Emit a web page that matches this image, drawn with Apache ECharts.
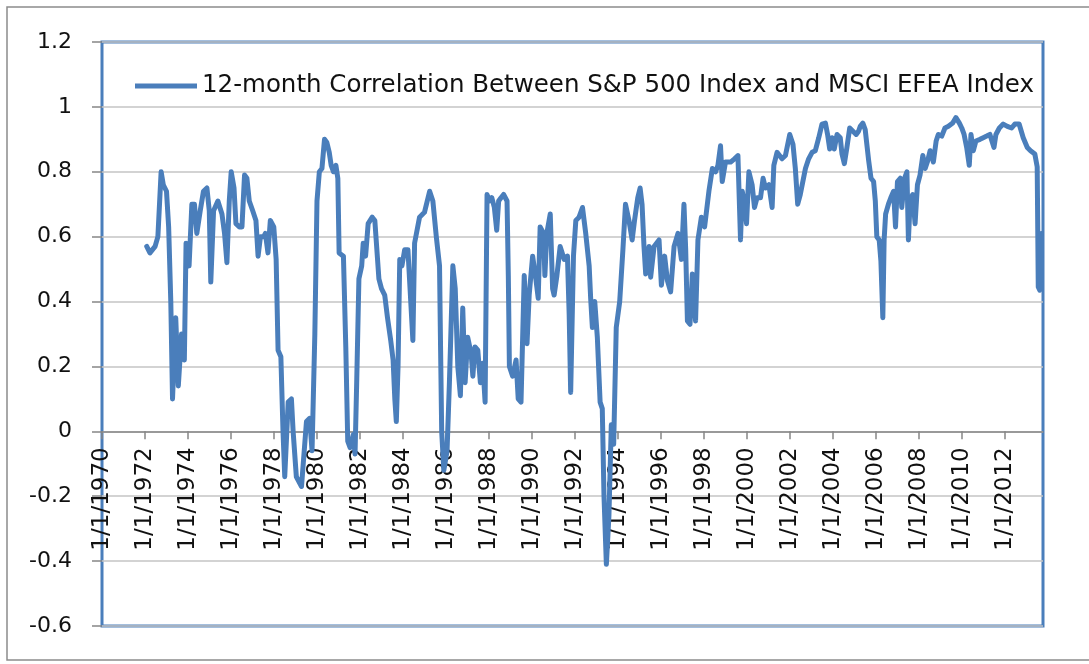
<!DOCTYPE html>
<html>
<head>
<meta charset="utf-8">
<script src="https://cdn.jsdelivr.net/npm/echarts@6/dist/echarts.min.js"></script>
<style>
	html, body { margin: 0; padding: 0; background: #fff; }
	#chart { width: 1089px; height: 664px; }
</style>
</head>
<body>
<div id="chart"></div>
<script>
var seriesName = "12-month Correlation Between S&P 500 Index and MSCI EFEA Index";

var yTicks = [-0.6, -0.4, -0.2, 0, 0.2, 0.4, 0.6, 0.8, 1, 1.2];
var tickYears = [1970, 1972, 1974, 1976, 1978, 1980, 1982, 1984, 1986, 1988, 1990,
	1992, 1994, 1996, 1998, 2000, 2002, 2004, 2006, 2008, 2010, 2012];

var years = [
	1972.08, 1972.23, 1972.47, 1972.6, 1972.75, 1972.85, 1973.0, 1973.1, 1973.2, 1973.28,
	1973.43, 1973.55, 1973.7, 1973.83, 1973.91, 1974.05, 1974.18, 1974.3, 1974.41, 1974.57,
	1974.72, 1974.88, 1974.99, 1975.06, 1975.19, 1975.39, 1975.58, 1975.7, 1975.81, 1975.92,
	1976.01, 1976.14, 1976.23, 1976.39, 1976.51, 1976.63, 1976.74, 1976.85, 1977.01, 1977.16,
	1977.26, 1977.37, 1977.52, 1977.6, 1977.72, 1977.83, 1977.99, 1978.1, 1978.19, 1978.32,
	1978.42, 1978.5, 1978.66, 1978.81, 1978.89, 1979.04, 1979.28, 1979.51, 1979.66, 1979.77,
	1979.9, 1980.0, 1980.11, 1980.23, 1980.35, 1980.46, 1980.57, 1980.66, 1980.77, 1980.88,
	1980.97, 1981.03, 1981.23, 1981.34, 1981.43, 1981.54, 1981.69, 1981.77, 1981.85, 1981.95,
	1982.08, 1982.15, 1982.26, 1982.38, 1982.57, 1982.69, 1982.88, 1983.0, 1983.15, 1983.28,
	1983.43, 1983.54, 1983.62, 1983.69, 1983.77, 1983.85, 1983.95, 1984.08, 1984.23, 1984.46,
	1984.54, 1984.77, 1985.0, 1985.24, 1985.39, 1985.55, 1985.7, 1985.75, 1985.8, 1985.9,
	1986.05, 1986.16, 1986.32, 1986.43, 1986.55, 1986.67, 1986.78, 1986.89, 1987.01, 1987.17,
	1987.25, 1987.35, 1987.48, 1987.6, 1987.71, 1987.82, 1987.91, 1988.02, 1988.13, 1988.25,
	1988.36, 1988.45, 1988.56, 1988.68, 1988.84, 1988.9, 1988.95, 1989.1, 1989.26, 1989.36,
	1989.49, 1989.64, 1989.77, 1989.87, 1990.03, 1990.18, 1990.29, 1990.38, 1990.54, 1990.6,
	1990.69, 1990.85, 1990.96, 1991.03, 1991.16, 1991.31, 1991.5, 1991.65, 1991.73, 1991.8,
	1991.93, 1992.04, 1992.19, 1992.35, 1992.5, 1992.66, 1992.73, 1992.81, 1992.92, 1993.04,
	1993.17, 1993.27, 1993.35, 1993.46, 1993.58, 1993.69, 1993.8, 1993.92, 1994.08, 1994.23,
	1994.35, 1994.51, 1994.66, 1994.77, 1994.92, 1995.03, 1995.12, 1995.21, 1995.29, 1995.45,
	1995.52, 1995.68, 1995.91, 1996.02, 1996.17, 1996.3, 1996.45, 1996.61, 1996.79, 1996.95,
	1997.07, 1997.15, 1997.23, 1997.35, 1997.46, 1997.61, 1997.72, 1997.88, 1998.03, 1998.23,
	1998.39, 1998.54, 1998.65, 1998.77, 1998.85, 1999.0, 1999.24, 1999.42, 1999.58, 1999.7,
	1999.78, 1999.89, 1999.98, 2000.09, 2000.24, 2000.35, 2000.47, 2000.63, 2000.75, 2000.86,
	2001.02, 2001.17, 2001.25, 2001.4, 2001.63, 2001.79, 2001.99, 2002.14, 2002.25, 2002.36,
	2002.48, 2002.72, 2002.87, 2003.03, 2003.18, 2003.34, 2003.49, 2003.65, 2003.75, 2003.85,
	2003.96, 2004.06, 2004.19, 2004.34, 2004.42, 2004.53, 2004.65, 2004.78, 2004.93, 2005.08,
	2005.19, 2005.27, 2005.39, 2005.5, 2005.66, 2005.77, 2005.89, 2005.97, 2006.04, 2006.15,
	2006.23, 2006.32, 2006.38, 2006.45, 2006.58, 2006.69, 2006.82, 2006.91, 2007.0, 2007.13,
	2007.2, 2007.33, 2007.44, 2007.51, 2007.59, 2007.71, 2007.82, 2007.93, 2008.05, 2008.18,
	2008.29, 2008.39, 2008.52, 2008.67, 2008.8, 2008.9, 2009.06, 2009.21, 2009.37, 2009.57,
	2009.72, 2009.88, 2009.99, 2010.1, 2010.22, 2010.34, 2010.42, 2010.53, 2010.65, 2010.84,
	2010.99, 2011.15, 2011.3, 2011.49, 2011.58, 2011.74, 2011.92, 2012.11, 2012.31, 2012.46,
	2012.66, 2012.85, 2013.04, 2013.19, 2013.39, 2013.5, 2013.55, 2013.62, 2013.7
];

var corr = [
	0.57, 0.55, 0.57, 0.60, 0.80, 0.76, 0.74, 0.63, 0.40, 0.10,
	0.35, 0.14, 0.30, 0.22, 0.58, 0.51, 0.70, 0.70, 0.61, 0.68,
	0.74, 0.75, 0.68, 0.46, 0.68, 0.71, 0.67, 0.61, 0.52, 0.71,
	0.80, 0.75, 0.64, 0.63, 0.63, 0.79, 0.78, 0.71, 0.68, 0.65,
	0.54, 0.60, 0.60, 0.61, 0.55, 0.65, 0.63, 0.53, 0.25, 0.23,
	0.00, -0.14, 0.09, 0.10, 0.00, -0.14, -0.17, 0.03, 0.04, -0.06,
	0.30, 0.71, 0.80, 0.81, 0.90, 0.89, 0.86, 0.82, 0.80, 0.82,
	0.78, 0.55, 0.54, 0.26, -0.03, -0.05, -0.01, -0.07, 0.16, 0.47,
	0.51, 0.58, 0.54, 0.64, 0.66, 0.65, 0.47, 0.44, 0.42, 0.35,
	0.28, 0.22, 0.10, 0.03, 0.20, 0.53, 0.51, 0.56, 0.56, 0.28,
	0.58, 0.66, 0.675, 0.74, 0.71, 0.60, 0.51, 0.25, 0.00, -0.12,
	-0.06, 0.15, 0.51, 0.44, 0.20, 0.11, 0.38, 0.15, 0.29, 0.24,
	0.17, 0.26, 0.25, 0.15, 0.21, 0.09, 0.73, 0.71, 0.72, 0.69,
	0.62, 0.71, 0.72, 0.73, 0.71, 0.48, 0.20, 0.17, 0.22, 0.10,
	0.09, 0.48, 0.27, 0.42, 0.54, 0.47, 0.41, 0.63, 0.61, 0.48,
	0.61, 0.67, 0.44, 0.42, 0.48, 0.57, 0.53, 0.54, 0.36, 0.12,
	0.54, 0.65, 0.66, 0.69, 0.61, 0.51, 0.41, 0.32, 0.40, 0.29,
	0.09, 0.07, -0.20, -0.41, -0.26, 0.02, -0.04, 0.32, 0.40, 0.56,
	0.70, 0.65, 0.59, 0.65, 0.72, 0.75, 0.70, 0.57, 0.485, 0.57,
	0.475, 0.57, 0.59, 0.45, 0.54, 0.465, 0.43, 0.57, 0.61, 0.53,
	0.70, 0.56, 0.34, 0.33, 0.485, 0.34, 0.59, 0.66, 0.63, 0.74,
	0.81, 0.80, 0.82, 0.88, 0.77, 0.83, 0.83, 0.84, 0.85, 0.59,
	0.74, 0.70, 0.64, 0.80, 0.76, 0.69, 0.72, 0.72, 0.78, 0.75,
	0.76, 0.69, 0.82, 0.86, 0.84, 0.85, 0.915, 0.885, 0.81, 0.70,
	0.73, 0.81, 0.84, 0.86, 0.865, 0.905, 0.947, 0.95, 0.915, 0.87,
	0.905, 0.87, 0.915, 0.905, 0.855, 0.825, 0.875, 0.935, 0.925, 0.915,
	0.925, 0.94, 0.95, 0.93, 0.835, 0.78, 0.77, 0.71, 0.60, 0.59,
	0.525, 0.35, 0.59, 0.67, 0.70, 0.72, 0.74, 0.63, 0.77, 0.78,
	0.69, 0.78, 0.80, 0.59, 0.71, 0.73, 0.64, 0.76, 0.79, 0.85,
	0.81, 0.83, 0.865, 0.83, 0.895, 0.915, 0.91, 0.935, 0.94, 0.95,
	0.967, 0.95, 0.935, 0.915, 0.875, 0.82, 0.915, 0.865, 0.895, 0.90,
	0.905, 0.91, 0.915, 0.875, 0.915, 0.935, 0.947, 0.94, 0.935, 0.947,
	0.947, 0.905, 0.875, 0.865, 0.855, 0.815, 0.445, 0.435, 0.61
];

var points = years.map(function (y, i) {
	return [y, corr[i]];
});

// plot box, and where the value 0 falls inside it
var chartWidth = 1089, chartHeight = 664;
var gridLeft = 102, gridTop = 42, gridRight = 46, gridBottom = 38;
var yMin = yTicks[0], yMax = yTicks[yTicks.length - 1];
var plotWidth = chartWidth - gridLeft - gridRight;
var plotHeight = chartHeight - gridTop - gridBottom;
var zeroOffset = -plotHeight * (0 - yMin) / (yMax - yMin);

var chart = echarts.init(document.getElementById("chart"));

chart.setOption({
	animation: false,
	backgroundColor: "#fff",
	graphic: [{
		type: "rect",
		shape: { x: 7, y: 7, width: 1100, height: 653 },
		style: { fill: "none", stroke: "#8c8c8c", lineWidth: 1.5 },
		silent: true
	}, {
		// plot area frame
		type: "rect",
		shape: { x: gridLeft, y: gridTop, width: plotWidth, height: plotHeight },
		style: { fill: "none", stroke: "#4a7ebb", lineWidth: 3 },
		silent: true
	}],
	grid: {
		left: gridLeft,
		top: gridTop,
		right: gridRight,
		bottom: gridBottom,
		containLabel: false,
		outerBoundsMode: "none"
	},
	legend: {
		data: [{ name: seriesName, icon: "rect" }],
		left: 130,
		top: 67,
		itemWidth: 62,
		itemHeight: 5,
		itemGap: 5,
		textStyle: {
			fontFamily: "DejaVu Sans",
			fontSize: 24.5,
			color: "#111",
			lineHeight: 28
		}
	},
	xAxis: {
		type: "value",
		min: tickYears[0],
		max: 2013.77,
		interval: 2,
		position: "bottom",
		offset: zeroOffset,
		axisLine: {
			onZero: false,
			lineStyle: { color: "#868686", width: 1.5 }
		},
		axisTick: {
			show: true,
			length: 8,
			lineStyle: { color: "#868686", width: 1.5 }
		},
		splitLine: { show: false },
		axisLabel: {
			rotate: 90,
			margin: 16,
			fontFamily: "DejaVu Sans",
			fontSize: 23,
			color: "#111",
			showMaxLabel: false,
			formatter: function (v) {
				return tickYears.indexOf(v) >= 0 ? "1/1/" + v : "";
			}
		}
	},
	yAxis: {
		type: "value",
		min: yMin,
		max: yMax,
		interval: 0.2,
		axisLine: { show: false, onZero: false },
		axisTick: {
			show: true,
			length: 10,
			lineStyle: { color: "#868686", width: 1.5 }
		},
		splitLine: {
			lineStyle: { color: "#c4c4c4", width: 1.5 }
		},
		axisLabel: {
			margin: 30,
			fontFamily: "DejaVu Sans",
			fontSize: 22,
			color: "#111",
			formatter: function (v) {
				return String(+v.toFixed(1));
			}
		}
	},
	series: [{
		name: seriesName,
		type: "line",
		data: points,
		symbol: "none",
		color: "#4a7ebb",
		lineStyle: {
			width: 5,
			join: "round",
			cap: "round"
		}
	}]
});
</script>
</body>
</html>
